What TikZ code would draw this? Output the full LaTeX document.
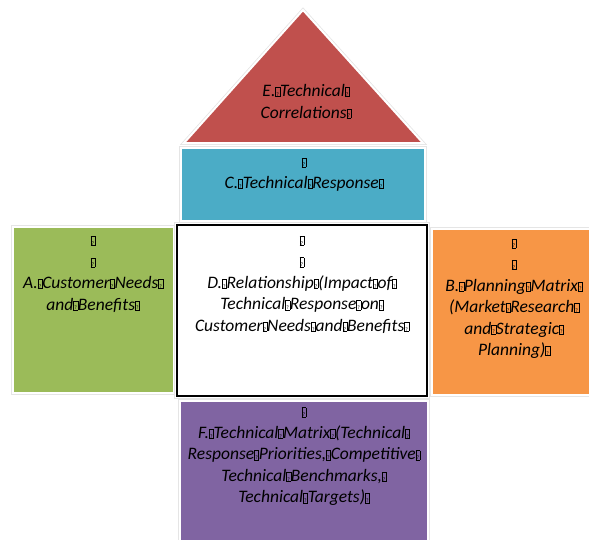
\documentclass[tikz,border=0pt]{standalone}
\usepackage{fontspec}
\setmainfont{Carlito}
\newcommand\missglyph{\begingroup\setlength\fboxsep{0pt}\setlength\fboxrule{0.4pt}%
  \raisebox{0.2pt}{\fbox{\makebox[3.8pt]{\rule{0pt}{8.8pt}\upshape\fontsize{5.5}{6}\selectfont ?}}}\endgroup}
\definecolor{hqred}{HTML}{C0504D}
\definecolor{hqteal}{HTML}{4BACC6}
\definecolor{hqgreen}{HTML}{9BBB59}
\definecolor{hqorange}{HTML}{F79646}
\definecolor{hqpurple}{HTML}{8064A2}
\tikzset{
  panel/.style={preaction={draw=black!10, line width=3.6pt}, draw=white, line width=2pt},
  label/.style={align=center, inner sep=0pt, font=\fontsize{17.5}{21.5}\selectfont\itshape},
}
\begin{document}
\begin{tikzpicture}[x=1pt,y=-1pt]
  \useasboundingbox (0,0) rectangle (589,539);
  % roof: technical correlations
  \path[panel, fill=hqred] (303,10) -- (423,143) -- (184,143) -- cycle;
  % technical response
  \path[panel, fill=hqteal] (181,148) rectangle (425,221);
  % customer needs
  \path[panel, fill=hqgreen] (13,227) rectangle (174,393);
  % relationship matrix
  \path[panel, fill=white] (176,224) rectangle (428,397);
  \draw[black, line width=1.3pt] (177,225) rectangle (427,396);
  % planning matrix
  \path[panel, fill=hqorange] (432,229) rectangle (600,395);
  % technical matrix
  \path[panel, fill=hqpurple] (180,401) rectangle (428,550);

  \node[label] (e) at (306,103) {E.\missglyph Technical\missglyph\strut\\Correlations\missglyph\strut};
  \node[label] (c) at (304,173.5) {\missglyph\strut\\C.\missglyph Technical\missglyph Response\missglyph\strut};
  \node[label] (a) at (93,273.5) {\missglyph\strut\\\missglyph\strut\\A.\missglyph Customer\missglyph Needs\missglyph\strut\\and\missglyph Benefits\missglyph\strut};
  \node[label] (d) at (302,284) {\missglyph\strut\\\missglyph\strut\\D.\missglyph Relationship\missglyph (Impact\missglyph of\missglyph\strut\\Technical\missglyph Response\missglyph on\missglyph\strut\\Customer\missglyph Needs\missglyph and\missglyph Benefits\missglyph\strut};
  \node[label] (b) at (514,297.5) {\missglyph\strut\\\missglyph\strut\\B.\missglyph Planning\missglyph Matrix\missglyph\strut\\(Market\missglyph Research\missglyph\strut\\and\missglyph Strategic\missglyph\strut\\Planning)\missglyph\strut};
  \node[label] (f) at (304,455.5) {\missglyph\strut\\F.\missglyph Technical\missglyph Matrix\missglyph (Technical\missglyph\strut\\Response\missglyph Priorities,\missglyph Competitive\missglyph\strut\\Technical\missglyph Benchmarks,\missglyph\strut\\Technical\missglyph Targets)\missglyph\strut};
\end{tikzpicture}
\end{document}
